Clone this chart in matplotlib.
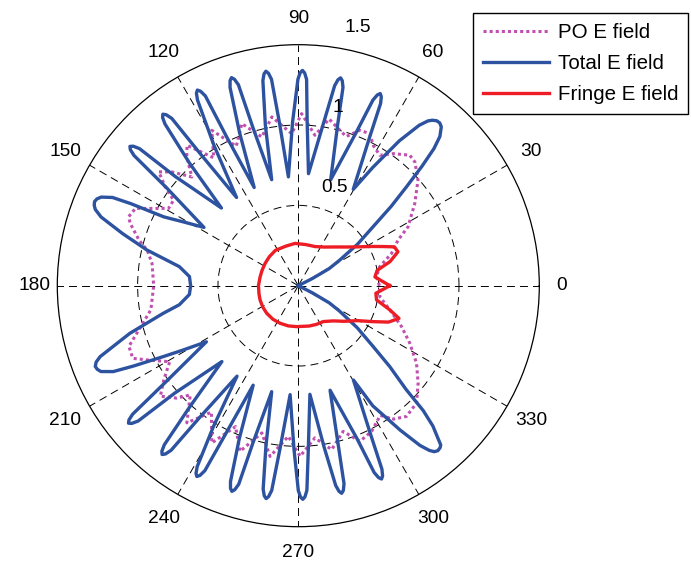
import numpy as np
import matplotlib
matplotlib.use('Agg')
import matplotlib.pyplot as plt

plt.rcParams['font.family'] = ['Liberation Sans', 'DejaVu Sans']

# ---- data (angle in degrees, magnitude) ----

# PO E field
po_theta = [0, 6.5, 13.1, 19.1, 24.6, 28.2, 35.2, 41.4, 46.7, 49.5, 54.3, 58.0,
            61.9, 64.8, 68.4, 72.2, 76.4, 79.5, 83.7, 88.9, 92.5, 98.9, 103.8,
            109.2, 114.0, 119.1, 123.5, 128.4, 130.9, 134.4, 138.0, 140.8, 143.4,
            145.6, 149.2, 152.7, 154.6, 157.9, 159.7, 164.1, 166.7, 171.3, 180.0,
            189.3, 195.5, 199.7, 203.7, 206.1, 210.6, 214.9, 218.7, 222.8, 225.3,
            230.9, 235.5, 241.2, 246.0, 250.6, 256.1, 260.6, 266.2, 270.6, 276.2,
            281.5, 287.1, 291.6, 296.7, 302.3, 305.5, 309.6, 315.2, 320.9, 326.8,
            332.7, 338.4, 345.2, 352.3, 360]
po_r = [0.505, 0.49, 0.52, 0.614, 0.683, 0.775, 0.887, 0.993, 1.058, 1.068, 1.012, 0.957,
        0.99, 1.046, 1.04, 0.975, 1.016, 1.055, 0.942, 1.071, 0.947, 1.063, 0.953,
        1.068, 0.95, 1.107, 0.954, 1.115, 1.06, 0.947, 1.058, 1.121, 1.031,
        0.941, 0.94, 1.048, 1.122, 1.14, 1.115, 1.03, 0.967, 0.921, 0.90,
        0.93, 1.03, 1.12, 1.125, 1.05, 0.93, 1.02, 1.10, 1.03, 0.956,
        1.10, 0.955, 1.117, 0.96, 1.093, 0.944, 1.077, 0.94, 1.062, 0.953,
        1.041, 0.949, 1.042, 1.015, 0.955, 1.02, 1.056, 1.037, 0.961, 0.879,
        0.781, 0.691, 0.589, 0.512, 0.505]

# Total E field
total_theta = [0, 24, 27, 29, 31.6, 35, 38.2, 40.5, 42.4, 44, 45.3, 46.5, 48, 49, 50,
               51, 51.8, 53, 55.1, 57.8, 60.3,
               64.3, 65.7, 66.3, 66.9, 67.5, 68.1, 69.3, 73.0,
               76.2, 77.3, 77.9, 78.5, 79.1, 79.7, 81.2, 84.8,
               86.9, 87.7, 88.3, 88.9, 89.5, 90.1, 92.0, 95.2,
               96.6, 97.4, 98.0, 98.6, 99.2, 99.8, 101.6, 104.1,
               106.0, 106.6, 107.2, 107.8, 108.4, 109.0, 111.0, 114.2,
               115.7, 116.1, 116.7, 117.3, 117.9, 118.5, 121.0, 125.0,
               126.6, 127.1, 127.7, 128.3, 128.9, 129.5, 131.6, 134.7,
               138.4, 139.2, 139.8, 140.4, 141.0, 141.6, 143.4, 148.3,
               151.0, 152.9, 153.9, 154.6, 155.8, 156.7, 157.6, 158.5, 159.4, 160.8,
               163.5, 166.7, 170.9, 175.2, 180.0,
               184.6, 189.1, 191.6, 195.8, 199.7, 200.7, 201.7, 202.6, 203.5, 204.9,
               206.0, 207.7, 209.2, 211.4,
               216.0, 217.8, 218.4, 219.0, 219.6, 220.2, 221.0, 224.8,
               228.2, 229.9, 230.5, 231.1, 231.7, 232.3, 233.2, 235.9,
               238.9, 240.8, 241.4, 242.0, 242.6, 243.2, 243.9, 245.6,
               248.9, 250.9, 251.5, 252.1, 252.7, 253.3, 253.9, 255.9,
               258.6, 260.2, 260.8, 261.4, 262.0, 262.6, 263.6, 265.7,
               268.5, 270.0, 270.6, 271.2, 271.8, 272.4, 273.5, 276.1,
               279.1, 280.6, 281.2, 281.8, 282.4, 283.0, 284.1, 286.9,
               291.0, 292.1, 292.7, 293.3, 293.9, 294.5, 296.0, 300.3,
               301.8, 305.2, 307.3, 308.5, 309.3, 310.2, 311.2, 311.8, 313.8, 315.0,
               316.1, 318.5, 320.9, 324.5, 328.4, 331, 333, 336, 360]
total_r = [0.0, 0.0, 0.10, 0.22, 0.30, 0.45, 0.59, 0.76, 0.91, 1.07, 1.20, 1.28, 1.33, 1.342, 1.34,
           1.325, 1.305, 1.25, 1.10, 0.87, 0.69,
           1.02, 1.245, 1.285, 1.30, 1.285, 1.245, 1.02, 0.69,
           1.02, 1.265, 1.305, 1.32, 1.305, 1.265, 1.02, 0.70,
           1.02, 1.285, 1.325, 1.34, 1.325, 1.285, 1.02, 0.68,
           1.02, 1.295, 1.335, 1.35, 1.335, 1.295, 1.02, 0.68,
           1.02, 1.305, 1.345, 1.36, 1.345, 1.305, 1.02, 0.67,
           1.02, 1.315, 1.355, 1.37, 1.355, 1.315, 1.02, 0.67,
           1.02, 1.305, 1.345, 1.36, 1.345, 1.305, 1.02, 0.68,
           1.02, 1.305, 1.345, 1.36, 1.345, 1.305, 1.02, 0.69,
           0.82, 0.94, 1.16, 1.28, 1.345, 1.365, 1.372, 1.365, 1.35, 1.30,
           1.14, 0.97, 0.75, 0.68, 0.67,
           0.68, 0.75, 0.86, 1.09, 1.31, 1.345, 1.36, 1.355, 1.34, 1.27,
           1.14, 0.95, 0.82, 0.67,
           1.02, 1.305, 1.345, 1.36, 1.345, 1.305, 1.02, 0.67,
           1.02, 1.295, 1.335, 1.35, 1.335, 1.295, 1.02, 0.68,
           1.02, 1.29, 1.33, 1.345, 1.33, 1.29, 1.02, 0.68,
           1.02, 1.29, 1.33, 1.345, 1.33, 1.29, 1.02, 0.68,
           1.02, 1.285, 1.325, 1.34, 1.325, 1.285, 1.02, 0.68,
           1.02, 1.275, 1.315, 1.33, 1.315, 1.275, 1.02, 0.68,
           1.02, 1.265, 1.305, 1.32, 1.305, 1.265, 1.02, 0.68,
           1.02, 1.255, 1.295, 1.31, 1.295, 1.255, 1.02, 0.68,
           0.88, 1.10, 1.25, 1.31, 1.335, 1.345, 1.34, 1.33, 1.21, 1.10,
           0.93, 0.76, 0.60, 0.45, 0.30, 0.22, 0.10, 0.0, 0.0]

# Fringe E field
fringe_theta = [0, 6.5, 11, 14.7, 18.8, 22, 24.6, 28, 33.3, 38.7, 46.9, 56, 66.8,
                80, 94.5, 108, 123, 135, 146, 157, 166.8, 180, 192, 200.5, 211,
                221.1, 233, 244, 256, 267.8, 285, 295, 304.8, 315, 322, 329.6,
                334, 338, 342, 345.2, 349.7, 354.4, 360]
fringe_r = [0.57, 0.48, 0.50, 0.59, 0.655, 0.645, 0.585, 0.52, 0.44, 0.385, 0.33, 0.29, 0.265,
            0.26, 0.264, 0.258, 0.262, 0.255, 0.249, 0.245, 0.244, 0.248, 0.25, 0.254, 0.258,
            0.261, 0.262, 0.26, 0.258, 0.255, 0.26, 0.266, 0.272, 0.31, 0.36, 0.43,
            0.51, 0.605, 0.659, 0.589, 0.495, 0.485, 0.57]

angle_ticks = list(range(0, 360, 30))
ring_ticks = [0.5, 1.0]
ring_labels = ['0.5', '1', '1.5']
ring_label_pos = [(76.6, 0.627), (79.0, 1.13), (79.8, 1.633)]

fig = plt.figure(figsize=(6.91, 5.67), dpi=100)
ax = fig.add_axes([0.0829, 0.0711, 0.6976, 0.8501], projection='polar')

ax.plot(np.deg2rad(po_theta), po_r, color='#c050b0', lw=2.2,
        linestyle=(0, (1, 1)), label='PO E field')
ax.plot(np.deg2rad(total_theta), total_r, color='#2c52a0', lw=2.4,
        solid_joinstyle='round', label='Total E field')
ax.plot(np.deg2rad(fringe_theta), fringe_r, color='#ee1c24', lw=2.4,
        solid_joinstyle='round', label='Fringe E field')

ax.set_rlim(0, 1.5)
ax.set_rticks(ring_ticks)
ax.set_yticklabels([])
ax.set_thetagrids(angle_ticks, labels=[''] * len(angle_ticks))
ax.grid(True, color='k', lw=0.7, linestyle=(0, (8.2, 5.2)))
ax.spines['polar'].set_linewidth(0.9)
ax.spines['polar'].set_color('k')
ax.tick_params(length=0)

for a in angle_ticks:
    if a % 180 == 0:
        lr = 1.64
    elif a % 90 == 0:
        lr = 1.66
    else:
        lr = 1.675
    ax.text(np.deg2rad(a), lr, str(a), ha='center', va='center', fontsize=13.8)
for lab, (a, rr) in zip(ring_labels, ring_label_pos):
    ax.text(np.deg2rad(a), rr, lab, ha='left', va='center', fontsize=13.8)

leg = ax.legend(loc='upper right', bbox_to_anchor=(688 / 691, 554 / 567),
                bbox_transform=fig.transFigure, borderaxespad=0, fancybox=False,
                edgecolor='k', framealpha=1, fontsize=14.8, handlelength=3.2,
                handletextpad=0.42, labelspacing=0.58, borderpad=0.48)
leg.get_frame().set_linewidth(1.0)

fig.savefig('out.png', dpi=100)
